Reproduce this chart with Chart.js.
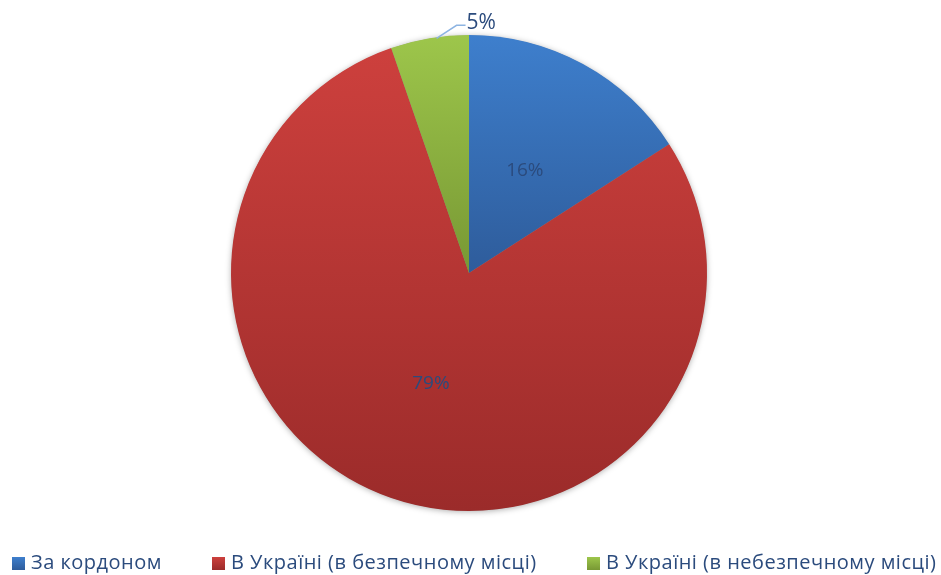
<!DOCTYPE html>
<html>
<head>
<meta charset="utf-8">
<script src="https://cdn.jsdelivr.net/npm/chart.js@4/dist/chart.umd.min.js"></script>
<style>
html,body{margin:0;padding:0;background:#fff;}
#wrap{width:941px;height:575px;position:relative;}
</style>
</head>
<body>
<div id="wrap"><canvas id="c" width="941" height="575"></canvas></div>
<script>
const categories = ["За кордоном", "В Україні (в безпечному місці)", "В Україні (в небезпечному місці)"];
const values = [15.9, 78.8, 5.3];
const valueLabels = ["16%", "79%", "5%"];
const colorTop = ["#3E7FCD", "#CD403D", "#9DC64B"];
const colorBottom = ["#2E5C9B", "#9B2B2A", "#789834"];
const textColor = "#2B4B7D";
const FONT = "'Open Sans', Lato, sans-serif";

function sliceGeom(chart, i) {
  const a = chart.chartArea;
  const cx = (a.left + a.right) / 2, cy = (a.top + a.bottom) / 2;
  const r = Math.min(a.right - a.left, a.bottom - a.top) / 2;
  const total = values.reduce((s, v) => s + v, 0);
  let cum = 0;
  for (let k = 0; k < i; k++) cum += values[k];
  const s = -Math.PI / 2 + cum / total * 2 * Math.PI;
  const e = s + values[i] / total * 2 * Math.PI;
  return {cx, cy, r, s, e};
}

function sliceFill(ctx) {
  const chart = ctx.chart;
  const i = ctx.dataIndex;
  if (!chart.chartArea || i === undefined) return colorTop[i || 0];
  const g = sliceGeom(chart, i);
  let minY = g.cy, maxY = g.cy;
  for (let t = 0; t <= 60; t++) {
    const ang = g.s + (g.e - g.s) * t / 60;
    const y = g.cy + g.r * Math.sin(ang);
    minY = Math.min(minY, y); maxY = Math.max(maxY, y);
  }
  const grad = chart.ctx.createLinearGradient(0, minY, 0, maxY);
  grad.addColorStop(0, colorTop[i]);
  grad.addColorStop(1, colorBottom[i]);
  return grad;
}

const shadowPlugin = {
  id: 'shadow',
  beforeDatasetsDraw(chart) {
    const g = sliceGeom(chart, 0);
    const c = chart.ctx;
    c.save();
    c.shadowColor = 'rgba(0,0,0,0.35)';
    c.shadowBlur = 6;
    c.shadowOffsetX = 0; c.shadowOffsetY = 1;
    c.fillStyle = '#888';
    c.beginPath(); c.arc(g.cx, g.cy, g.r - 0.5, 0, Math.PI * 2); c.fill();
    c.restore();
  }
};

const labelPlugin = {
  id: 'labels',
  afterDatasetsDraw(chart) {
    const c = chart.ctx;
    c.save();
    c.fillStyle = textColor;
    c.textAlign = 'center';
    c.textBaseline = 'middle';
    for (let i = 0; i < values.length; i++) {
      const g = sliceGeom(chart, i);
      const mid = (g.s + g.e) / 2;
      if (values[i] < 8) {
        const ex = g.cx + g.r * Math.cos(mid), ey = g.cy + g.r * Math.sin(mid);
        c.strokeStyle = '#8DB4E2';
        c.lineWidth = 1.5;
        c.beginPath();
        c.moveTo(ex + 7, ey);
        c.lineTo(ex + 27, ey - 13);
        c.lineTo(ex + 36, ey - 13);
        c.stroke();
        c.font = "21px " + FONT;
        c.textAlign = 'left';
        c.fillText(valueLabels[i], ex + 37, ey - 15);
        c.textAlign = 'center';
      } else {
        const x = g.cx + g.r * 0.49 * Math.cos(mid);
        const y = g.cy + g.r * 0.49 * Math.sin(mid);
        c.font = "19px " + FONT;
        c.fillText(valueLabels[i], x, y);
      }
    }
    c.restore();
  }
};

const legendPlugin = {
  id: 'customLegend',
  afterDraw(chart) {
    const c = chart.ctx;
    const xs = [12, 212, 587];
    const yMid = 563.5;
    c.save();
    c.font = "20px " + FONT;
    if ('letterSpacing' in c) c.letterSpacing = '0.5px';
    c.textBaseline = 'middle';
    c.textAlign = 'left';
    for (let i = 0; i < categories.length; i++) {
      const grad = c.createLinearGradient(0, yMid - 6.5, 0, yMid + 6.5);
      grad.addColorStop(0, colorTop[i]);
      grad.addColorStop(1, colorBottom[i]);
      c.fillStyle = grad;
      c.fillRect(xs[i], yMid - 6.5, 13, 13);
      c.fillStyle = textColor;
      c.fillText(categories[i], xs[i] + 19, yMid);
    }
    c.restore();
  }
};

new Chart(document.getElementById('c'), {
  type: 'pie',
  data: {
    labels: categories,
    datasets: [{
      data: values,
      backgroundColor: sliceFill,
      borderWidth: 0
    }]
  },
  options: {
    responsive: false,
    animation: false,
    layout: {padding: {top: 35, bottom: 64, left: 0, right: 3}},
    plugins: {
      legend: {display: false},
      tooltip: {enabled: false}
    }
  },
  plugins: [shadowPlugin, labelPlugin, legendPlugin]
});
</script>
</body>
</html>
